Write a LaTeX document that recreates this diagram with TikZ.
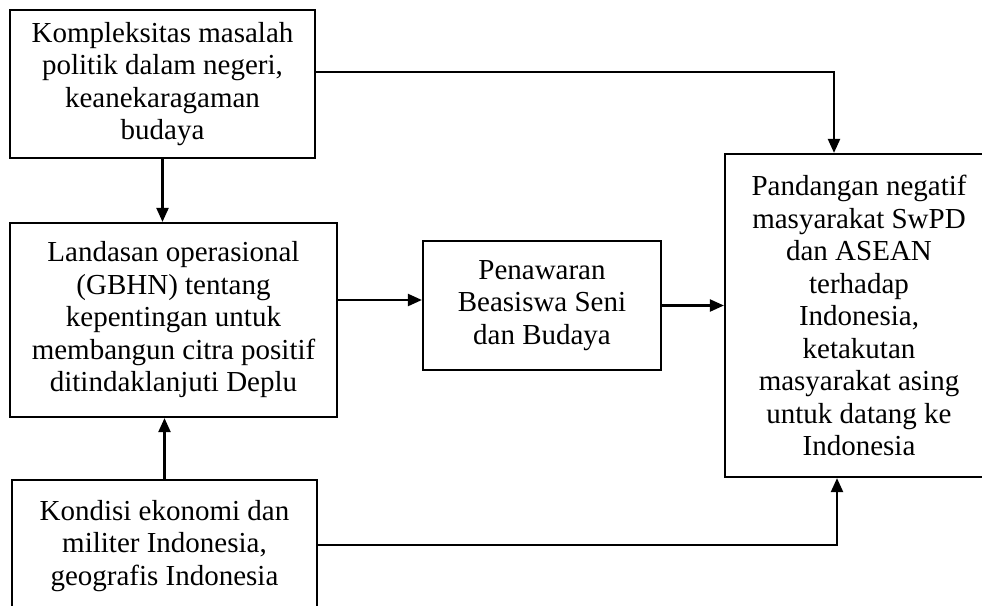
\documentclass[tikz,border=0pt]{standalone}
\usepackage{fontspec}
\setmainfont{Liberation Serif}
\usetikzlibrary{arrows.meta}
\begin{document}
\begin{tikzpicture}[x=1pt,y=-1pt,
  boxnode/.style={draw, line width=2.2pt, inner sep=0pt, align=center,
    font=\fontsize{29}{32.5}\selectfont},
  arr/.style={line width=2.2pt, -{Triangle[length=14pt,width=12pt]}}]
\clip (0,0) rectangle (982,605);
\fill[white] (0,0) rectangle (982,605);
\node[boxnode, minimum width=305pt, minimum height=148pt] (b1) at (162.5,84)
  {Kompleksitas masalah\\politik dalam negeri,\\keanekaragaman\\budaya};
\node[boxnode, minimum width=327pt, minimum height=194pt] (b2) at (173.5,320)
  {Landasan operasional\\(GBHN) tentang\\kepentingan untuk\\membangun citra positif\\ditindaklanjuti Deplu};
\node[boxnode, minimum width=305pt, minimum height=132pt] (b3) at (164.5,546)
  {Kondisi ekonomi dan\\militer Indonesia,\\geografis Indonesia};
\node[boxnode, minimum width=238pt, minimum height=129pt] (pen) at (542,305.5)
  {Penawaran\\Beasiswa Seni\\dan Budaya};
\node[boxnode, minimum width=268pt, minimum height=323pt] (rb) at (859,315.5)
  {Pandangan negatif\\masyarakat SwPD\\dan ASEAN\\terhadap\\Indonesia,\\ketakutan\\masyarakat asing\\untuk datang ke\\Indonesia};
\coordinate (c1) at (834,72);
\coordinate (c2) at (0,300);
\coordinate (c4) at (837,545);
\draw[arr] (b1.east |- c1) -- (c1) -- (c1 |- rb.north);
\draw[arr] (b1.south) -- (b1.south |- b2.north);
\draw[arr] (b3.north) -- (b3.north |- b2.south);
\draw[arr] (b2.east |- c2) -- (pen.west |- c2);
\draw[arr] (pen.east) -- (pen.east -| rb.west);
\draw[arr] (b3.east |- c4) -- (c4) -- (c4 |- rb.south);
\end{tikzpicture}
\end{document}
